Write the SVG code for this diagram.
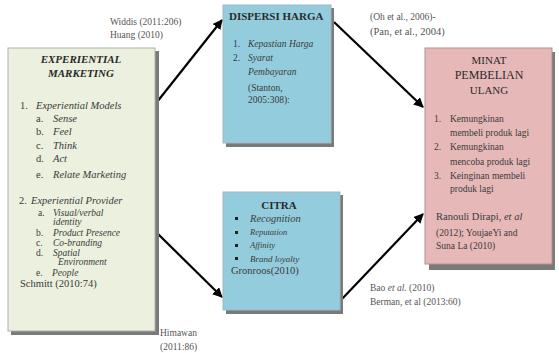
<svg xmlns="http://www.w3.org/2000/svg" width="559" height="353" viewBox="0 0 559 353">
<style>
text{font-family:"Liberation Serif","Times New Roman",serif;fill:#3a3a3a;}
.t{font-weight:bold;font-size:11px;fill:#2a2a2a;}
.ti{font-weight:bold;font-style:italic;font-size:11px;fill:#2a2a2a;}
.i{font-style:italic;font-size:10.5px;}
.i2{font-style:italic;font-size:9.5px;}
.n{font-size:10.5px;}
.n2{font-size:9.5px;}
.s{font-size:9.5px;}
.si{font-style:italic;font-size:9.5px;}
.lbl{font-size:9.5px;fill:#555;}
.sh{fill:#7a7a7a;}
.c{stroke:#000;stroke-width:2.2;fill:none;marker-end:url(#ah);}
</style>
<defs>
<marker id="ah" viewBox="0 0 10 10" refX="9" refY="5" markerWidth="4.5" markerHeight="4.5" orient="auto" markerUnits="strokeWidth">
<path d="M0,0 L10,5 L0,10 Z" fill="#000"/>
</marker>
</defs>
<rect width="559" height="353" fill="#fff"/>

<g id="connectors">
<line class="c" x1="157" y1="102" x2="222" y2="20"/>
<line class="c" x1="157" y1="233" x2="222" y2="297"/>
<line class="c" x1="334" y1="22" x2="423" y2="107"/>
<line class="c" x1="341" y1="300" x2="423" y2="214"/>
</g>

<g id="experiential">
<rect class="sh" x="11" y="51" width="148" height="284"/>
<rect x="8" y="48" width="147" height="283" fill="#ebf1de" stroke="#b0b0b0" stroke-width="1"/>
<text class="ti" x="81" y="63" text-anchor="middle">EXPERIENTIAL</text>
<text class="ti" x="81" y="77" text-anchor="middle">MARKETING</text>
<text class="n" x="20" y="109">1.</text>
<text class="i" x="36" y="109">Experiential Models</text>
<text class="n" x="36" y="122">a.</text><text class="i" x="53" y="122">Sense</text>
<text class="n" x="36" y="135">b.</text><text class="i" x="53" y="135">Feel</text>
<text class="n" x="36" y="149">c.</text><text class="i" x="53" y="149">Think</text>
<text class="n" x="36" y="162">d.</text><text class="i" x="53" y="162">Act</text>
<text class="n" x="36" y="178">e.</text><text class="i" x="53" y="178">Relate Marketing</text>
<text class="n" x="19" y="204">2.</text>
<text class="i" x="31" y="204">Experiential Provider</text>
<text class="n2" x="38" y="216">a.</text><text class="i2" x="53" y="216">Visual/verbal</text>
<text class="i2" x="53" y="225">identity</text>
<text class="n2" x="36" y="236">b.</text><text class="i2" x="53" y="236">Product Presence</text>
<text class="n2" x="36" y="246">c.</text><text class="i2" x="53" y="246">Co-branding</text>
<text class="n2" x="36" y="256">d.</text><text class="i2" x="53" y="256">Spatial</text>
<text class="i2" x="58" y="265">Environment</text>
<text class="n2" x="36" y="276">e.</text><text class="i2" x="52" y="276">People</text>
<text class="n" x="20" y="287">Schmitt (2010:74)</text>
</g>

<g id="dispersi">
<rect class="sh" x="226" y="8" width="108" height="139"/>
<rect x="223" y="5" width="108" height="138" fill="#93cddd" stroke="#a0b8c0" stroke-width="1"/>
<text class="t" x="229" y="20">DISPERSI HARGA</text>
<text class="s" x="233" y="47">1.</text><text class="si" x="248" y="47">Kepastian Harga</text>
<text class="s" x="233" y="61">2.</text><text class="si" x="248" y="61">Syarat</text>
<text class="si" x="248" y="75">Pembayaran</text>
<text class="s" x="248" y="91">(Stanton,</text>
<text class="s" x="248" y="103">2005:308):</text>
</g>

<g id="citra">
<rect class="sh" x="226" y="195" width="117" height="119"/>
<rect x="223" y="192" width="117" height="118" fill="#93cddd" stroke="#a0b8c0" stroke-width="1"/>
<text class="t" x="279" y="209" text-anchor="middle">CITRA</text>
<rect x="235" y="217" width="3" height="3" fill="#222"/>
<text class="i" x="250" y="222">Recognition</text>
<rect x="235" y="231" width="3" height="3" fill="#222"/>
<text class="si" x="250" y="235" style="font-size:8.5px">Reputation</text>
<rect x="235" y="244" width="3" height="3" fill="#222"/>
<text class="si" x="250" y="248" style="font-size:8.5px">Affinity</text>
<rect x="235" y="257" width="3" height="3" fill="#222"/>
<text class="si" x="250" y="262" style="font-size:9px">Brand  loyalty</text>
<text class="n" x="231" y="274">Gronroos(2010)</text>
</g>

<g id="minat">
<rect class="sh" x="429" y="52" width="126" height="218"/>
<rect x="425" y="48" width="127" height="216" fill="#e6b9b8" stroke="#b09090" stroke-width="1"/>
<text class="t" x="489" y="64" text-anchor="middle" style="font-weight:normal;font-size:11px">MINAT</text>
<text class="t" x="489" y="79" text-anchor="middle" style="font-weight:normal;font-size:12px">PEMBELIAN</text>
<text class="t" x="489" y="94" text-anchor="middle" style="font-weight:normal;font-size:11px">ULANG</text>
<text class="s" x="434" y="122">1.</text><text class="s" x="450" y="122">Kemungkinan</text>
<text class="s" x="450" y="136">membeli produk lagi</text>
<text class="s" x="434" y="150">2.</text><text class="s" x="450" y="150">Kemungkinan</text>
<text class="s" x="450" y="165">mencoba produk lagi</text>
<text class="s" x="434" y="179">3.</text><text class="s" x="450" y="179">Keinginan membeli</text>
<text class="s" x="450" y="192">produk lagi</text>
<text class="n" x="436" y="220">Ranouli Dirapi, <tspan font-style="italic">et al</tspan></text>
<text class="s" x="436" y="236">(2012); YoujaeYi and</text>
<text class="s" x="436" y="249">Suna La (2010)</text>
</g>

<g id="labels">
<text class="lbl" x="110" y="25">Widdis (2011:206)</text>
<text class="lbl" x="110" y="38">Huang  (2010)</text>
<text class="lbl" x="370" y="20">(Oh et al., 2006)-</text>
<text class="lbl" x="370" y="35" style="font-size:10.5px">(Pan, et al., 2004)</text>
<text class="lbl" x="370" y="291">Bao <tspan font-style="italic">et al.</tspan> (2010)</text>
<text class="lbl" x="370" y="305">Berman, et al (2013:60)</text>
<text class="lbl" x="160" y="336">Himawan</text>
<text class="lbl" x="160" y="350">(2011:86)</text>
</g>
</svg>
